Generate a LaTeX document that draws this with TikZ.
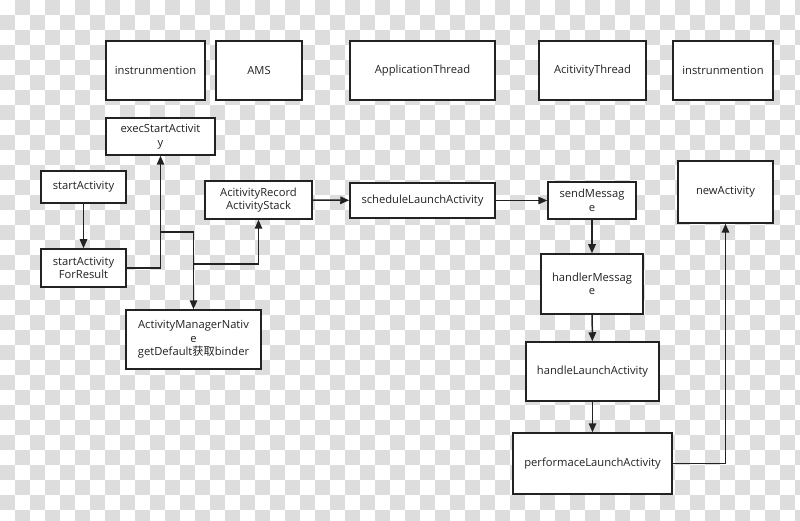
\documentclass[tikz,border=0pt]{standalone}
\usepackage{fontspec}
\setmainfont{Open Sans}
\newfontfamily\cjk{Noto Sans CJK SC}
\usetikzlibrary{arrows.meta}
\definecolor{chk}{RGB}{221,221,221}
\definecolor{ink}{RGB}{34,34,34}
\begin{document}
\begin{tikzpicture}[x=1pt,y=-1pt,
  box/.style={draw=ink, line width=1.5pt, fill=white, align=center, inner sep=2pt,
    text=ink, font=\fontsize{11.2}{13.5}\selectfont},
  conn/.style={draw=ink, line width=1.5pt, -{Triangle[length=9pt,width=7.5pt]}}]
\useasboundingbox (0,0) rectangle (800,521);
\begin{scope}
\clip (0,0) rectangle (800,521);
\foreach \j in {0,...,34}{
  \foreach \i in {0,...,53}{
    \pgfmathtruncatemacro\k{\i+\j}
    \ifodd\k \fill[chk] (\i*15,\j*15) rectangle ++(15,15); \fi
  }
}
\end{scope}
% top row
\node[box, minimum width=99pt, minimum height=59pt] (ins1) at (155.5,70.5) {instrunmention};
\node[box, minimum width=86pt, minimum height=59pt] (ams) at (259,70.5) {AMS};
\node[box, minimum width=145pt, minimum height=59pt] (appth) at (422.5,70.5) {ApplicationThread};
\node[box, minimum width=107pt, minimum height=59pt] (actth) at (592.5,70.5) {AcitivityThread};
\node[box, minimum width=100pt, minimum height=59pt] (ins2) at (723,70.5) {instrunmention};
% flow
\node[box, minimum width=109pt, minimum height=37pt] (exec) at (160.5,136.5) {execStartActivit\\y};
\node[box, minimum width=85pt, minimum height=32pt] (start) at (83.5,187) {startActivity};
\node[box, minimum width=85pt, minimum height=38pt] (forres) at (83.5,268) {startActivity\\ForResult};
\node[box, minimum width=135pt, minimum height=59pt] (amn) at (193.5,339.5) {ActivityManagerNativ\\e\\getDefault{\cjk 获取}binder};
\node[box, minimum width=107pt, minimum height=38pt] (rec) at (258.5,200) {AcitivityRecord\\ActivityStack};
\node[box, minimum width=145pt, minimum height=35pt] (sched) at (422.5,200.5) {scheduleLaunchActivity};
\node[box, minimum width=88pt, minimum height=37pt] (send) at (592,200.5) {sendMessag\\e};
\node[box, minimum width=102pt, minimum height=60pt] (handler) at (592,284) {handlerMessag\\e};
\node[box, minimum width=133pt, minimum height=59pt] (hla) at (592.5,371.5) {handleLaunchActivity};
\node[box, minimum width=159pt, minimum height=61pt] (perf) at (592.5,463.5) {performaceLaunchActivity};
\node[box, minimum width=95pt, minimum height=62pt] (newact) at (725.5,192) {newActivity};
% junctions
\coordinate (j1) at (160.5,232);
\coordinate (j2) at (193.5,264);
% connectors
\draw[conn] (start) -- (forres);
\draw[conn] (forres.east) -| (exec.south);
\draw[conn] (j1) -| (amn.north);
\draw[conn] (j2) -| (rec.south);
\draw[conn] (rec) -- (sched);
\draw[conn] (sched) -- (send);
\draw[conn] (send) -- (handler);
\draw[conn] (handler) -- (hla);
\draw[conn] (hla) -- (perf);
\draw[conn] (perf.east) -| (newact.south);
\end{tikzpicture}
\end{document}
